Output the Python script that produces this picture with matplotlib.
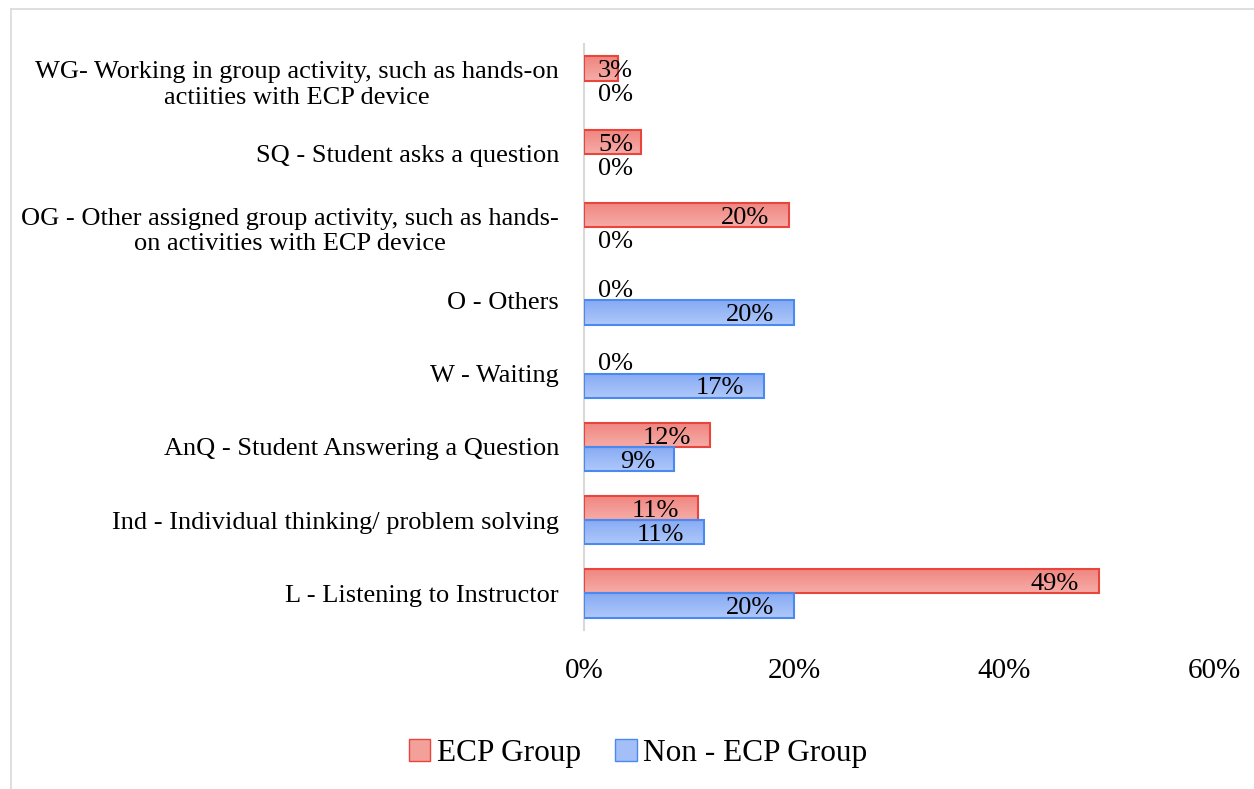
import numpy as np
import matplotlib.pyplot as plt
from matplotlib.colors import LinearSegmentedColormap
from matplotlib.lines import Line2D
from matplotlib.patches import Patch

plt.rcParams['font.family'] = ['Liberation Serif', 'DejaVu Serif']

# categories listed bottom to top
categories = [
    "L - Listening to Instructor",
    "Ind - Individual thinking/ problem solving",
    "AnQ - Student Answering a Question",
    "W - Waiting",
    "O - Others",
    "OG - Other assigned group activity, such as hands-\non activities with ECP device",
    "SQ - Student asks a question",
    "WG- Working in group activity, such as hands-on\nactiities with ECP device",
]
ecp_group = [49.0, 10.9, 12.0, 0, 0, 19.5, 5.4, 3.2]
non_ecp_group = [20.0, 11.4, 8.6, 17.1, 20.0, 0, 0, 0]
x_ticks = [0, 20, 40, 60]

red_edge = '#E8453C'
blue_edge = '#4A8AF0'
red_cmap = LinearSegmentedColormap.from_list('r', ['#F6ACA8', '#F0857F'])
blue_cmap = LinearSegmentedColormap.from_list('b', ['#AFC8F9', '#86AAF4'])

fig = plt.figure(figsize=(12.54, 7.89), dpi=100)
ax = fig.add_axes([584 / 1254, 1 - 630 / 789, 630 / 1254, 586 / 789])

# chart frame (only top/left visible in the crop)
fig.add_artist(Line2D([11 / 1254, 11 / 1254], [0, 1 - 9 / 789],
                      transform=fig.transFigure, color='#D9D9D9', lw=1.2))
fig.add_artist(Line2D([11 / 1254, 1], [1 - 9 / 789, 1 - 9 / 789],
                      transform=fig.transFigure, color='#D9D9D9', lw=1.2))

y = np.arange(len(categories))
h = 0.33
grad = np.linspace(0, 1, 50).reshape(-1, 1)

def draw_series(vals, offset, cmap, edge):
    lws = [1.5 if v > 0 else 0 for v in vals]
    bars = ax.barh(y + offset, vals, height=h, color='none', edgecolor=edge,
                   linewidth=lws, zorder=3)
    for b, v in zip(bars, vals):
        if v > 0:
            x0, y0 = b.get_x(), b.get_y()
            ax.imshow(grad, extent=[x0, x0 + b.get_width(), y0 + b.get_height(), y0],
                      cmap=cmap, aspect='auto', zorder=2, interpolation='bilinear')
    for yy, v in zip(y + offset, vals):
        if v < 7:
            ax.annotate(f'{v:.0f}%', xy=(0, yy), xytext=(10, -2), textcoords='offset points',
                        ha='left', va='center', fontsize=19, zorder=4)
        else:
            ax.annotate(f'{v:.0f}%', xy=(v, yy), xytext=(-14, -2), textcoords='offset points',
                        ha='right', va='center', fontsize=19, zorder=4)

draw_series(ecp_group, h / 2, red_cmap, red_edge)
draw_series(non_ecp_group, -h / 2, blue_cmap, blue_edge)

ax.set_xlim(0, 60)
ax.set_ylim(-0.5, len(categories) - 0.5)
ax.set_xticks(x_ticks)
ax.set_xticklabels([f'{t}%' for t in x_ticks], fontsize=21)
ax.set_yticks(y)
ax.set_yticklabels(categories, fontsize=19, ha='right', multialignment='center')
ax.tick_params(axis='both', length=0)
ax.tick_params(axis='x', pad=20)
ax.tick_params(axis='y', pad=18)
for s in ['top', 'right', 'bottom']:
    ax.spines[s].set_visible(False)
ax.spines['left'].set_color('#D9D9D9')
ax.spines['left'].set_linewidth(1.5)

handles = [Patch(facecolor='#F4A09A', edgecolor=red_edge, label='ECP Group'),
           Patch(facecolor='#A4BFF7', edgecolor=blue_edge, label='Non - ECP Group')]
fig.legend(handles=handles, loc='center', bbox_to_anchor=(638 / 1254, 1 - 753 / 789),
           ncol=2, frameon=False, fontsize=22.5, handlelength=0.7, handleheight=0.7,
           handletextpad=0.2, columnspacing=1.1)

fig.savefig('out.png', dpi=100, facecolor='white')
